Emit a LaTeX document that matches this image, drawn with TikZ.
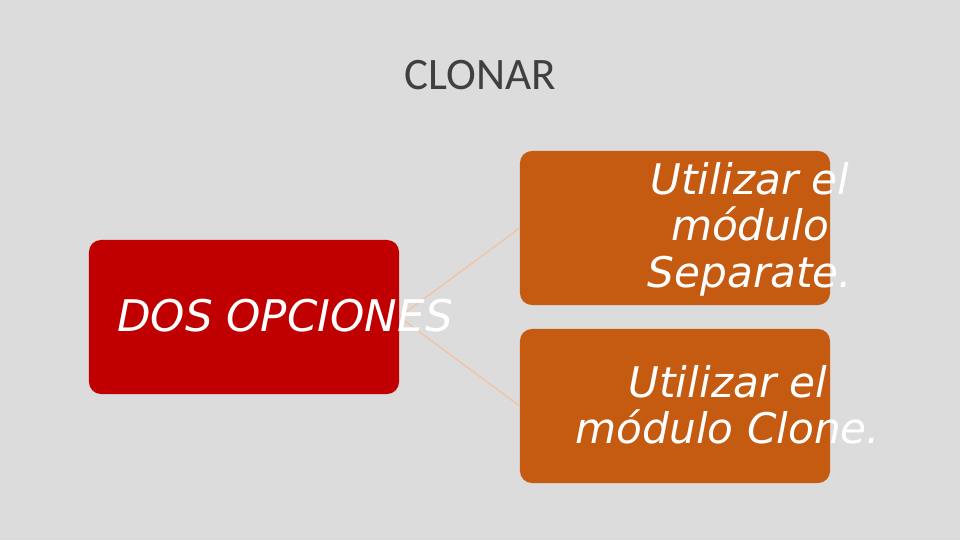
\documentclass[tikz,border=0pt]{standalone}
\usepackage{fontspec}
\setmainfont{Carlito}
\newfontfamily\handfont{DejaVu Sans}
\usetikzlibrary{positioning}
\definecolor{fondo}{HTML}{DCDCDC}
\definecolor{rojo}{HTML}{C00000}
\definecolor{naranja}{HTML}{C55A11}
\definecolor{melocoton}{HTML}{F2C4A4}
\definecolor{titulo}{HTML}{404040}

\begin{document}
\begin{tikzpicture}[x=0.025cm,y=-0.025cm,
    caja/.style={rounded corners=0.3cm,minimum width=7.75cm,minimum height=3.85cm,inner sep=0pt},
    texto/.style={text=white,font=\handfont\itshape,align=center},
    linea/.style={draw=melocoton,line width=1pt}]
  \fill[fondo] (0,0) rectangle (960,540);
  \useasboundingbox (0,0) rectangle (960,540);
  \node[font=\fontsize{32}{36}\selectfont,text=titulo] (clonar) at (480,75) {CLONAR};
  \node[caja,fill=rojo] (opciones) at (244,317) {};
  \node[caja,fill=naranja] (separate) at (675,228) {};
  \node[caja,fill=naranja] (clone) at (675,406) {};
  % conectores
  \path[linea] (opciones.east) -- (separate.west);
  \path[linea] (opciones.east) -- (clone.west);
  \node[texto,font=\handfont\itshape\fontsize{31}{34}\selectfont] (t1) at (285,316) {DOS OPCIONES};
  \node[texto,font=\handfont\itshape\fontsize{30}{33}\selectfont] (t2) at (750,229) {Utilizar el\\módulo\\Separate.};
  \node[texto,font=\handfont\itshape\fontsize{30}{33}\selectfont] (t3) at (728,405) {Utilizar el\\módulo Clone.};
\end{tikzpicture}
\end{document}
